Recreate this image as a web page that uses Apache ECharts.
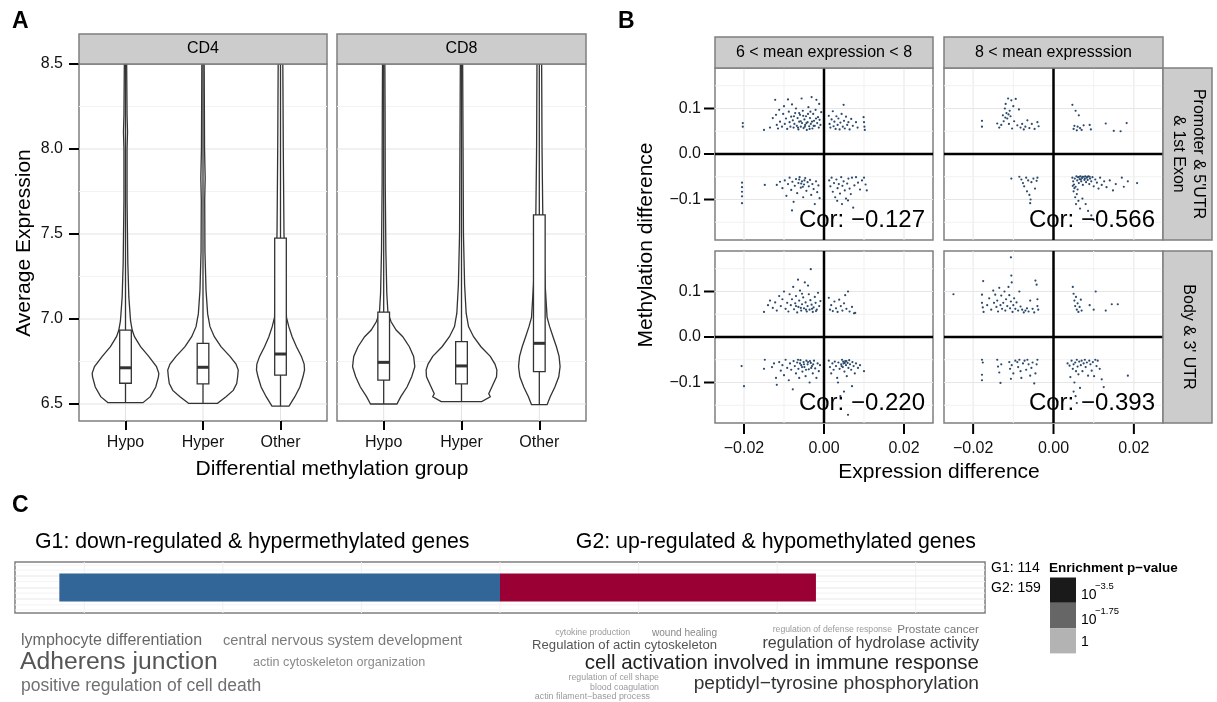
<!DOCTYPE html>
<html>
<head>
<meta charset="utf-8">
<script src="https://cdn.jsdelivr.net/npm/echarts@6/dist/echarts.min.js"></script>
<style>
html,body{margin:0;padding:0;background:#fff}
#main{width:1217px;height:702px}
</style>
</head>
<body>
<div id="main"></div>
<script>
const FONT = '"Liberation Sans", Arial, Helvetica, sans-serif';

/* ---- 面板A：小提琴 + 箱线 ---- */
const groups = ['Hypo', 'Hyper', 'Other'];
const facetsA = ['CD4', 'CD8'];
const yTicksA = [6.5, 7.0, 7.5, 8.0, 8.5];

// 轮廓 [表达值, 半宽(类别单位)]
const cd4Hypo = [[6.508,.225],[6.543,.32],[6.60,.39],[6.66,.425],[6.68,.43],[6.72,.40],[6.78,.30],[6.837,.194],[6.896,.116],[6.935,.086],[6.99,.065],[7.13,.043],[7.33,.03],[7.7,.02],[8.0,.02],[8.1,.026],[8.2,.02],[8.5,.015]];
const cd4Hyper = [[6.504,.187],[6.543,.297],[6.58,.39],[6.62,.435],[6.66,.447],[6.70,.455],[6.735,.426],[6.78,.348],[6.837,.232],[6.896,.146],[6.955,.09],[7.03,.06],[7.17,.039],[7.4,.025],[7.7,.022],[7.83,.028],[8.0,.02],[8.5,.015]];
const cd4Other = [[6.488,.11],[6.543,.185],[6.60,.25],[6.66,.29],[6.70,.31],[6.735,.305],[6.78,.27],[6.837,.206],[6.896,.15],[6.955,.107],[7.01,.077],[7.2,.065],[7.5,.045],[8.0,.036],[8.5,.03]];
const cd8Hypo = [[6.50,.17],[6.543,.22],[6.60,.30],[6.66,.36],[6.72,.40],[6.78,.385],[6.837,.33],[6.896,.245],[6.935,.16],[6.984,.095],[7.034,.055],[7.15,.04],[7.4,.028],[7.8,.02],[8.2,.018],[8.5,.015]];
const cd8Hyper = [[6.514,.26],[6.543,.37],[6.56,.35],[6.60,.39],[6.66,.45],[6.70,.455],[6.735,.43],[6.78,.37],[6.837,.25],[6.896,.155],[6.955,.09],[7.034,.06],[7.2,.04],[7.5,.025],[8.0,.02],[8.5,.015]];
const cd8Other = [[6.496,.10],[6.543,.14],[6.60,.20],[6.66,.25],[6.72,.267],[6.78,.254],[6.837,.22],[6.896,.176],[6.955,.133],[7.01,.10],[7.2,.075],[7.4,.06],[7.6,.045],[8.0,.035],[8.5,.03]];
const cd4Violins = [cd4Hypo, cd4Hyper, cd4Other];
const cd8Violins = [cd8Hypo, cd8Hyper, cd8Other];

// 箱线 [下须, Q1, 中位数, Q3, 上须]
const cd4Box = [[6.508,6.622,6.713,6.935,8.5],[6.504,6.618,6.716,6.857,8.5],[6.488,6.67,6.794,7.476,8.5]];
const cd8Box = [[6.50,6.641,6.745,7.04,8.5],[6.514,6.618,6.724,6.867,8.5],[6.496,6.69,6.857,7.612,8.5]];

/* ---- 面板B：散点 ---- */
const colLabels = ['6 < mean expression < 8', '8 < mean expresssion'];
const rowLabels = ["Promoter & 5'UTR\n& 1st Exon", "Body & 3' UTR"];
const corValues = [-0.127, -0.566, -0.220, -0.393];
const xTicksB = [-0.02, 0, 0.02];
const yTicksB = [-0.1, 0, 0.1];

const promoterMid = [
[-.0128,.079],[-.0122,.119],[-.0120,.086],[-.0118,.064],[-.0115,.056],[-.0112,.097],[-.0110,.071],[-.0105,.060],[-.0102,.088],[-.0100,.105],[-.0098,.066],[-.0095,.078],[-.0092,.055],[-.0090,.120],[-.0088,.093],[-.0086,.070],[-.0084,.060],[-.0082,.082],[-.0080,.109],[-.0078,.074],[-.0076,.058],[-.0074,.066],[-.0072,.090],[-.0070,.100],[-.0068,.062],[-.0066,.079],[-.0064,.054],[-.0062,.071],[-.0060,.086],[-.0058,.060],[-.0056,.122],[-.0055,.068],[-.0053,.095],[-.0051,.057],[-.0049,.076],[-.0047,.064],[-.0045,.083],[-.0043,.053],[-.0041,.070],[-.0039,.103],[-.0037,.061],[-.0035,.079],[-.0033,.066],[-.0031,.125],[-.0029,.056],[-.0027,.088],[-.0025,.073],[-.0023,.062],[-.0021,.097],[-.0019,.119],[-.0017,.068],[-.0015,.081],[-.0013,.058],[-.0011,.075],[-.0009,.064],[-.0007,.092],
[-.0065,.058],[-.0048,.060],[-.0036,.055],[-.0026,.062],[-.0058,.072],[-.0044,.068],[-.0030,.071],[-.0020,.078],[-.0075,.083],[-.0062,.090],[-.0052,.084],[-.0040,.088],[-.0034,.093],[-.0012,.110],
[-.0203,.068],[-.0203,.060],[-.0150,.053],[-.0135,.058],
[.0012,.084],[.0014,.066],[.0016,.058],[.0019,.076],[.0022,.094],[.0024,.061],[.0026,.071],[.0029,.055],[.0031,.083],[.0034,.064],[.0036,.078],[.0039,.054],[.0041,.069],[.0044,.088],[.0047,.060],[.0050,.073],[.0052,.056],[.0055,.082],[.0049,.108],[.0058,.064],[.0061,.070],[.0064,.054],[.0068,.077],[.0072,.062],[.0080,.070],[.0084,.058],[.0099,.081],[.0100,.070],[.0101,.060],[.0102,.053],
[-.0205,-.063],[-.0205,-.073],[-.0205,-.083],[-.0205,-.093],[-.0205,-.108],[-.0148,-.068],[-.0118,-.068],[-.0110,-.061],[-.0104,-.075],[-.0098,-.058],[-.0094,-.092],[-.0090,-.066],[-.0086,-.052],[-.0082,-.079],[-.0079,-.061],[-.0076,-.105],[-.0073,-.070],[-.0070,-.055],[-.0067,-.086],[-.0064,-.064],[-.0061,-.051],[-.0058,-.074],[-.0055,-.060],[-.0052,-.095],[-.0050,-.067],[-.0047,-.053],[-.0044,-.081],[-.0041,-.062],[-.0038,-.071],[-.0035,-.057],[-.0032,-.090],[-.0029,-.066],[-.0026,-.077],[-.0023,-.110],[-.0020,-.060],[-.0017,-.084],[-.0014,-.069],[-.0011,-.097],[-.0080,-.124],[-.0062,-.056],[-.0057,-.065],[-.0049,-.058],[-.0053,-.072],
[.0013,-.058],[.0016,-.071],[.0019,-.052],[.0022,-.083],[.0025,-.064],[.0028,-.095],[.0031,-.056],[.0034,-.075],[.0037,-.066],[.0040,-.087],[.0043,-.051],[.0046,-.070],[.0049,-.060],[.0052,-.080],[.0055,-.098],[.0058,-.065],[.0061,-.054],[.0064,-.076],[.0067,-.088],[.0070,-.052],[.0073,-.118],[.0076,-.069],[.0080,-.051],[.0085,-.063],[.0090,-.078],[.0095,-.058],[.0100,-.052],[.0104,-.067],[.0107,-.080],[.0033,-.103],[.0060,-.102],[.0045,-.110]];

const promoterHigh = [
[-.0178,.073],[-.0178,.060],[-.0140,.067],[-.0135,.058],[-.0130,.064],[-.0126,.085],[-.0124,.072],[-.0121,.100],[-.0119,.110],[-.0117,.090],[-.0115,.078],[-.0113,.122],[-.0111,.066],[-.0109,.095],[-.0107,.083],[-.0105,.118],[-.0103,.056],[-.0100,.105],[-.0098,.072],[-.0094,.121],[-.0090,.063],[-.0086,.098],[-.0082,.058],[-.0078,.066],[-.0074,.054],[-.0070,.060],[-.0065,.074],[-.0060,.057],[-.0054,.066],[-.0047,.055],[-.0040,.070],[-.0037,.061],[-.0120,.080],[-.0112,.087],
[.0047,.108],[.0050,.055],[.0052,.062],[.0055,.095],[.0058,.052],[.0060,.060],[.0063,.085],[.0066,.057],[.0070,.053],[.0075,.063],[.0090,.064],[.0093,.054],[.0130,.067],[.0150,.051],[.0167,.050],[.0182,.068],
[-.0105,-.054],[-.0085,-.050],[-.0080,-.056],[-.0076,-.064],[-.0073,-.071],[-.0068,-.052],[-.0066,-.082],[-.0063,-.058],[-.0060,-.090],[-.0057,-.100],[-.0055,-.062],[-.0050,-.054],[-.0046,-.076],[-.0042,-.059],[-.0040,-.052],[-.0058,-.108],
[.0047,-.052],[.0049,-.060],[.0051,-.067],[.0053,-.054],[.0055,-.072],[.0057,-.049],[.0059,-.058],[.0061,-.051],[.0063,-.064],[.0065,-.055],[.0067,-.049],[.0069,-.060],[.0071,-.053],[.0073,-.068],[.0075,-.050],[.0077,-.057],[.0079,-.049],[.0081,-.062],[.0083,-.052],[.0085,-.057],[.0087,-.049],[.0089,-.066],[.0091,-.054],[.0094,-.060],[.0097,-.051],[.0100,-.071],[.0104,-.056],[.0108,-.063],[.0112,-.076],[.0116,-.052],[.0120,-.068],[.0126,-.060],[.0132,-.073],[.0140,-.058],[.0148,-.080],[.0155,-.066],[.0170,-.052],[.0175,-.072],[.0185,-.060],[.0208,-.064],[.0050,-.082],[.0054,-.095],[.0056,-.110],[.0058,-.088],[.0062,-.103],[.0066,-.120],[.0072,-.098],[.0080,-.110],[.0086,-.125],[.0094,-.135],[.0100,-.145],[.0060,-.078],[.0048,-.070],[.0052,-.075],[.0064,-.050],[.0068,-.056],[.0072,-.050],[.0078,-.054],[.0084,-.050],[.0090,-.050]];

const bodyMid = [
[-.0150,.055],[-.0140,.070],[-.0135,.080],[-.0128,.064],[-.0122,.076],[-.0118,.058],[-.0112,.090],[-.0108,.068],[-.0104,.083],[-.0100,.100],[-.0096,.062],[-.0092,.075],[-.0089,.056],[-.0086,.094],[-.0083,.070],[-.0080,.083],[-.0077,.110],[-.0075,.061],[-.0072,.074],[-.0070,.090],[-.0067,.054],[-.0064,.066],[-.0062,.080],[-.0060,.102],[-.0057,.058],[-.0055,.072],[-.0052,.087],[-.0050,.063],[-.0048,.120],[-.0046,.076],[-.0043,.056],[-.0041,.068],[-.0038,.094],[-.0036,.060],[-.0034,.081],[-.0031,.071],[-.0028,.055],[-.0026,.065],[-.0023,.088],[-.0021,.075],[-.0018,.060],[-.0015,.097],[-.0012,.068],[-.0009,.079],[-.0033,.149],[-.0065,.126],[-.0040,.113],[-.0058,.064],[-.0045,.060],[-.0030,.062],[-.0020,.057],[-.0055,.095],[-.0070,.068],
[.0012,.086],[.0015,.060],[.0018,.070],[.0022,.057],[.0026,.078],[.0030,.063],[.0034,.055],[.0038,.082],[.0042,.068],[.0046,.058],[.0050,.074],[.0053,.092],[.0056,.062],[.0060,.100],[.0064,.056],[.0070,.066],[.0075,.052],[.0078,.053],
[-.0206,-.064],[-.0200,-.108],[-.0148,-.050],[-.0150,-.070],[-.0130,-.066],[-.0125,-.058],[-.0120,-.090],[-.0118,-.105],[-.0112,-.055],[-.0108,-.074],[-.0104,-.062],[-.0100,-.084],[-.0096,-.050],[-.0092,-.068],[-.0088,-.095],[-.0085,-.058],[-.0082,-.072],[-.0078,-.115],[-.0076,-.053],[-.0073,-.064],[-.0070,-.080],[-.0067,-.056],[-.0064,-.070],[-.0062,-.090],[-.0059,-.051],[-.0057,-.062],[-.0054,-.076],[-.0051,-.055],[-.0049,-.066],[-.0046,-.086],[-.0044,-.052],[-.0041,-.060],[-.0038,-.071],[-.0036,-.100],[-.0033,-.057],[-.0030,-.064],[-.0028,-.080],[-.0025,-.052],[-.0022,-.069],[-.0019,-.090],[-.0016,-.058],[-.0013,-.075],[-.0010,-.062],[-.0060,-.058],[-.0050,-.060],[-.0040,-.055],[-.0032,-.068],[-.0045,-.072],[-.0055,-.066],[-.0027,-.060],[-.0035,-.053],[-.0065,-.050],
[.0012,-.052],[.0015,-.066],[.0018,-.080],[.0021,-.058],[.0024,-.072],[.0027,-.054],[.0030,-.064],[.0033,-.090],[.0036,-.056],[.0039,-.070],[.0041,-.130],[.0043,-.060],[.0045,-.050],[.0047,-.066],[.0049,-.058],[.0051,-.076],[.0053,-.053],[.0055,-.062],[.0057,-.086],[.0059,-.057],[.0061,-.068],[.0063,-.051],[.0065,-.060],[.0068,-.072],[.0071,-.055],[.0074,-.064],[.0077,-.080],[.0080,-.058],[.0085,-.068],[.0090,-.062],[.0100,-.075],[.0060,-.171],[.0050,-.120],[.0070,-.108],[.0035,-.100],[.0052,-.057],[.0056,-.053],[.0048,-.054],[.0044,-.064]];

const bodyHigh = [
[-.0249,.094],[-.0106,.175],[-.0175,.123],[-.0178,.093],[-.0178,.075],[-.0176,.065],[-.0174,.055],[-.0165,.070],[-.0160,.085],[-.0155,.060],[-.0150,.102],[-.0148,.075],[-.0145,.093],[-.0142,.066],[-.0140,.080],[-.0138,.056],[-.0135,.108],[-.0132,.070],[-.0130,.091],[-.0128,.062],[-.0125,.075],[-.0122,.100],[-.0120,.058],[-.0118,.083],[-.0115,.068],[-.0112,.110],[-.0110,.092],[-.0108,.063],[-.0106,.078],[-.0105,.135],[-.0104,.120],[-.0102,.055],[-.0100,.070],[-.0098,.085],[-.0095,.062],[-.0092,.076],[-.0088,.058],[-.0085,.100],[-.0082,.067],[-.0078,.060],[-.0074,.054],[-.0070,.058],[-.0066,.063],[-.0062,.056],[-.0058,.080],[-.0052,.062],[-.0048,.054],[-.0045,.124],[-.0042,.115],[-.0040,.083],[-.0038,.060],[-.0040,.068],
[.0048,.110],[.0050,.095],[.0052,.080],[.0054,.068],[.0056,.088],[.0058,.060],[.0060,.074],[.0062,.055],[.0065,.066],[.0068,.082],[.0070,.058],[.0090,.070],[.0100,.060],[.0105,.100],[.0130,.058],[.0145,.072],[.0160,.072],
[-.0178,-.050],[-.0178,-.083],[-.0178,-.095],[-.0176,-.056],[-.0140,-.050],[-.0138,-.065],[-.0135,-.078],[-.0132,-.101],[-.0130,-.060],[-.0110,-.055],[-.0108,-.070],[-.0106,-.092],[-.0104,-.062],[-.0100,-.080],[-.0095,-.052],[-.0090,-.055],[-.0088,-.066],[-.0085,-.050],[-.0082,-.075],[-.0080,-.090],[-.0076,-.058],[-.0072,-.052],[-.0068,-.072],[-.0065,-.050],[-.0062,-.060],[-.0058,-.085],[-.0055,-.068],[-.0052,-.056],[-.0048,-.102],[-.0045,-.080],[-.0042,-.060],[-.0040,-.050],
[.0035,-.058],[.0040,-.063],[.0042,-.088],[.0045,-.052],[.0048,-.070],[.0050,-.060],[.0052,-.100],[.0054,-.056],[.0056,-.075],[.0058,-.050],[.0060,-.065],[.0062,-.082],[.0064,-.054],[.0066,-.112],[.0068,-.062],[.0070,-.052],[.0072,-.075],[.0075,-.058],[.0078,-.050],[.0080,-.066],[.0083,-.056],[.0086,-.085],[.0089,-.052],[.0092,-.060],[.0095,-.074],[.0098,-.055],[.0101,-.086],[.0104,-.050],[.0107,-.064],[.0110,-.052],[.0115,-.070],[.0120,-.093],[.0125,-.110],[.0185,-.085],[.0055,-.130],[.0058,-.145],[.0050,-.120]];

const scatterSets = [promoterMid, promoterHigh, bodyMid, bodyHigh];

/* ---- 面板C：富集条 + 词云 ---- */
const setTitles = ['G1: down-regulated & hypermethylated genes', 'G2: up-regulated & hypomethylated genes'];
const geneSets = ['G1', 'G2'];
const geneCounts = [114, 159];
const barScore = [-3.18, 2.28];
const g1Terms = ['lymphocyte differentiation', 'central nervous system development', 'Adherens junction', 'actin cytoskeleton organization', 'positive regulation of cell death'];
const g1Size = [16, 14.7, 24.7, 12.6, 17.5];
const g1Shade = ['#666', '#7a7a7a', '#555', '#8a8a8a', '#707070'];
const g2Terms = ['cytokine production', 'wound healing', 'Regulation of actin cytoskeleton', 'regulation of defense response', 'Prostate cancer', 'regulation of hydrolase activity', 'cell activation involved in immune response', 'regulation of cell shape', 'blood coagulation', 'actin filament\u2212based process', 'peptidyl\u2212tyrosine phosphorylation'];
const g2Size = [8.7, 10.1, 13.1, 8.7, 11.7, 16.1, 20.5, 8.8, 8.8, 8.9, 19.2];
const g2Shade = ['#9a9a9a', '#888', '#555', '#9a9a9a', '#777', '#444', '#222', '#9a9a9a', '#9a9a9a', '#9a9a9a', '#333'];
const legendBase = ['10', '10', '1'];
const legendExp = ['\u22123.5', '\u22121.75', ''];
const legendColors = ['#1a1a1a', '#666666', '#b3b3b3'];

/* ---- 布局 ---- */
const gridRects = [
  [79, 64, 248, 357], [337, 64, 249, 357],
  [715, 68, 218, 172], [944, 68, 219, 172], [715, 251, 218, 172], [944, 251, 219, 172],
  [15, 562, 970, 51]
];
// 词云位置 [x, y, 对齐]
const g1Pos = [[21, 641, 'left'], [223, 641, 'left'], [20, 662, 'left'], [253, 663, 'left'], [21, 686, 'left']];
const g2Pos = [[630, 633, 'right'], [717, 633, 'right'], [717, 645, 'right'], [892, 630, 'right'], [979, 630, 'right'], [979, 644, 'right'], [979, 663, 'right'], [659, 678, 'right'], [659, 688, 'right'], [650, 697, 'right'], [979, 684, 'right']];

const minus = s => s.replace('-', '\u2212');

function txt(x, y, text, size, opt) {
  opt = opt || {};
  const ha = opt.align || 'left';
  const va = opt.valign || 'middle';
  return {
    type: 'text', x, y, z: 100, rotation: opt.rotation || 0,
    style: {
      text, fontSize: size, fontFamily: FONT, fontWeight: opt.weight || 'normal',
      fill: opt.color || '#000', align: ha, verticalAlign: va,
      textAlign: ha, textVerticalAlign: va, lineHeight: opt.lineHeight
    }
  };
}

function strip(x, y, w, h) {
  return {type: 'rect', z: 90, shape: {x, y, width: w, height: h},
    style: {fill: '#cccccc', stroke: '#7f7f7f', lineWidth: 1.5}};
}

// 网格线（自绘，避免刻度从min开始算）
function gridLines(gi, vx, hy, color, xRef, yRef, lw) {
  return {
    type: 'custom', xAxisIndex: gi, yAxisIndex: gi, silent: true, z: 1,
    data: [[xRef, yRef]],
    renderItem: (params, api) => {
      const cs = params.coordSys;
      const ch = [];
      vx.forEach(v => {
        const x = api.coord([v, yRef])[0];
        ch.push({type: 'line', shape: {x1: x, y1: cs.y, x2: x, y2: cs.y + cs.height}, style: {stroke: color, lineWidth: lw || 1}});
      });
      hy.forEach(v => {
        const y = api.coord([xRef, v])[1];
        ch.push({type: 'line', shape: {x1: cs.x, y1: y, x2: cs.x + cs.width, y2: y}, style: {stroke: color, lineWidth: lw || 1}});
      });
      return {type: 'group', children: ch};
    }
  };
}

// 面板B的外侧刻度线和刻度标签
function outerAxis(gi, vx, hy) {
  return {
    type: 'custom', xAxisIndex: gi, yAxisIndex: gi, silent: true, z: 5, clip: false,
    data: [[0, 0]],
    renderItem: (params, api) => {
      const cs = params.coordSys;
      const ch = [];
      const st = {stroke: '#000', lineWidth: 2};
      const ts = {fill: '#111', fontSize: 16, fontFamily: FONT};
      vx.forEach(v => {
        const x = api.coord([v, 0])[0];
        const yb = cs.y + cs.height;
        ch.push({type: 'line', shape: {x1: x, y1: yb + 1, x2: x, y2: yb + 11}, style: st});
        ch.push({type: 'text', x: x, y: yb + 26, style: Object.assign({text: minus(v.toFixed(2)), align: 'center', verticalAlign: 'middle'}, ts)});
      });
      hy.forEach(v => {
        const y = api.coord([0, v])[1];
        ch.push({type: 'line', shape: {x1: cs.x - 1, y1: y, x2: cs.x - 11, y2: y}, style: st});
        ch.push({type: 'text', x: cs.x - 14, y: y, style: Object.assign({text: minus(v.toFixed(1)), align: 'right', verticalAlign: 'middle'}, ts)});
      });
      return {type: 'group', children: ch};
    }
  };
}

function violinSeries(gi, profiles, boxes) {
  return {
    type: 'custom', xAxisIndex: gi, yAxisIndex: gi, z: 3, silent: true,
    data: boxes.map((b, i) => [i + 1, b[2]]),
    renderItem: (params, api) => {
      const i = params.dataIndex, c = i + 1, prof = profiles[i], b = boxes[i];
      const left = prof.map(p => api.coord([c - p[1], p[0]]));
      const right = prof.slice().reverse().map(p => api.coord([c + p[1], p[0]]));
      const bw = 0.075;
      const tl = api.coord([c - bw, b[3]]), br = api.coord([c + bw, b[1]]);
      const ml = api.coord([c - bw, b[2]]), mr = api.coord([c + bw, b[2]]);
      const lo = api.coord([c, b[0]]), hi = api.coord([c, b[4]]);
      const st = {stroke: '#333', lineWidth: 1.3};
      return {type: 'group', children: [
        {type: 'polygon', shape: {points: left.concat(right)}, style: {fill: '#fff', stroke: '#333', lineWidth: 1.3}},
        {type: 'line', shape: {x1: lo[0], y1: lo[1], x2: lo[0], y2: br[1]}, style: st},
        {type: 'line', shape: {x1: hi[0], y1: hi[1], x2: hi[0], y2: tl[1]}, style: st},
        {type: 'rect', shape: {x: tl[0], y: tl[1], width: br[0] - tl[0], height: br[1] - tl[1]}, style: {fill: '#fff', stroke: '#333', lineWidth: 1.3}},
        {type: 'line', shape: {x1: ml[0], y1: ml[1], x2: mr[0], y2: mr[1]}, style: {stroke: '#333', lineWidth: 3}}
      ]};
    }
  };
}

const tickStyle = {lineStyle: {color: '#000', width: 2}};
const noLine = () => ({show: false, onZero: false});
const grids = gridRects.map(r => ({
  left: r[0], top: r[1], width: r[2], height: r[3], show: true,
  borderColor: '#7f7f7f', borderWidth: 1.5, backgroundColor: 'transparent',
  containLabel: false, outerBoundsMode: 'none'
}));

const xAxes = [], yAxes = [];
// A
facetsA.forEach((f, gi) => {
  xAxes.push({gridIndex: gi, type: 'value', min: 0.4, max: 3.6, splitLine: {show: false}, axisLine: noLine(),
    axisTick: Object.assign({customValues: [1, 2, 3], length: 9}, tickStyle),
    axisLabel: {customValues: [1, 2, 3], formatter: v => groups[Math.round(v) - 1], fontSize: 16, color: '#111', fontFamily: FONT, margin: 14}});
  yAxes.push({gridIndex: gi, type: 'value', min: 6.4, max: 8.5, splitLine: {show: false}, axisLine: noLine(),
    axisTick: Object.assign({show: gi === 0, customValues: yTicksA, length: 10}, tickStyle),
    axisLabel: {show: gi === 0, customValues: yTicksA, formatter: v => v.toFixed(1), fontSize: 16, color: '#111', fontFamily: FONT, margin: 16}});
});
// B（坐标轴只提供比例尺，刻度由 outerAxis 画）
[2, 3, 4, 5].forEach(gi => {
  xAxes.push({gridIndex: gi, type: 'value', show: false, min: -0.02725, max: 0.02725, splitLine: {show: false}, axisLine: noLine()});
  yAxes.push({gridIndex: gi, type: 'value', show: false, min: -0.189, max: 0.189, splitLine: {show: false}, axisLine: noLine()});
});
// C
xAxes.push({gridIndex: 6, type: 'value', min: -3.5, max: 3.5, show: false, splitLine: {show: false}, axisLine: noLine()});
yAxes.push({gridIndex: 6, type: 'category', data: ['set'], show: false, splitLine: {show: false}, axisLine: noLine()});

const series = [];
// A
[cd4Violins, cd8Violins].forEach((prof, gi) => {
  series.push(gridLines(gi, [1, 2, 3], [6.5, 7.0, 7.5, 8.0], '#e3e3e3', 2, 7));
  series.push(gridLines(gi, [], [6.75, 7.25, 7.75, 8.25], '#f3f3f3', 2, 7));
  series.push(violinSeries(gi, prof, gi === 0 ? cd4Box : cd8Box));
});
// B
scatterSets.forEach((pts, k) => {
  const gi = k + 2;
  series.push(gridLines(gi, [-0.02, 0.02], [-0.1, 0.1], '#e6e6e6', 0, 0));
  series.push(gridLines(gi, [-0.01, 0.01], [-0.15, -0.05, 0.05, 0.15], '#f1f1f1', 0, 0));
  series.push({type: 'scatter', xAxisIndex: gi, yAxisIndex: gi, data: pts, symbol: 'circle', symbolSize: 2.2,
    itemStyle: {color: '#2b4a6c', opacity: 1}, silent: true, z: 3});
  const zl = gridLines(gi, [0], [0], '#000', 0, 0, 2.5);
  zl.z = 5;
  series.push(zl);
  series.push(outerAxis(gi, gi >= 4 ? xTicksB : [], gi % 2 === 0 ? yTicksB : []));
});
// C
series.push(gridLines(6, [-3, -2, -1, 0, 1, 2, 3], [], '#f0f0f0', 0, 0));
series.push({
  type: 'custom', xAxisIndex: 6, yAxisIndex: 6, silent: true, z: 1, data: [[0, 0]],
  renderItem: (params) => {
    const cs = params.coordSys;
    const rows = [[0.06, '#f4f4f4'], [0.16, '#f4f4f4'], [0.275, '#e8e8e8'], [0.385, '#f4f4f4'], [0.51, '#e8e8e8'],
                  [0.61, '#f4f4f4'], [0.725, '#e8e8e8'], [0.84, '#f4f4f4'], [0.94, '#f4f4f4']];
    return {type: 'group', children: rows.map(r => ({
      type: 'line', shape: {x1: cs.x, y1: cs.y + r[0] * cs.height, x2: cs.x + cs.width, y2: cs.y + r[0] * cs.height},
      style: {stroke: r[1], lineWidth: 1}}))};
  }
});
series.push({type: 'bar', xAxisIndex: 6, yAxisIndex: 6, data: [barScore[0]], barWidth: 28, itemStyle: {color: '#326598'}, silent: true, z: 3});
series.push({type: 'bar', xAxisIndex: 6, yAxisIndex: 6, data: [barScore[1]], barWidth: 28, barGap: '-100%', itemStyle: {color: '#9a0033'}, silent: true, z: 3});

/* ---- 文字与图例 ---- */
const g = [];
g.push(txt(12, 22, 'A', 23, {weight: 'bold'}));
g.push(txt(618, 22, 'B', 23, {weight: 'bold'}));
g.push(txt(12, 506, 'C', 23, {weight: 'bold'}));
// A
facetsA.forEach((f, i) => {
  const r = gridRects[i];
  g.push(strip(r[0], 34, r[2], 30));
  g.push(txt(r[0] + r[2] / 2, 49, f, 16, {align: 'center'}));
});
g.push(txt(24, 243, 'Average Expression', 21, {align: 'center', rotation: Math.PI / 2}));
g.push(txt(332, 469, 'Differential methylation group', 21, {align: 'center'}));
// B
colLabels.forEach((c, i) => {
  const r = gridRects[2 + i];
  g.push(strip(r[0], 37, r[2], 31));
  g.push(txt(r[0] + r[2] / 2, 52.5, c, 16, {align: 'center'}));
});
rowLabels.forEach((c, i) => {
  const r = gridRects[2 + i * 2];
  g.push(strip(1163, r[1], 49, r[3]));
  g.push(txt(1188, r[1] + r[3] / 2, c, 16, {align: 'center', rotation: -Math.PI / 2, lineHeight: 20}));
});
corValues.forEach((v, k) => {
  const r = gridRects[2 + k];
  g.push(txt(r[0] + r[2] - 8, r[1] + r[3] - 20, 'Cor: ' + minus(v.toFixed(3)), 24, {align: 'right'}));
});
g.push(txt(646, 245, 'Methylation difference', 21, {align: 'center', rotation: Math.PI / 2}));
g.push(txt(939, 472, 'Expression difference', 21, {align: 'center'}));
// C
g.push(txt(35, 542, setTitles[0], 21.3));
g.push(txt(976, 542, setTitles[1], 21.3, {align: 'right'}));
geneSets.forEach((s, i) => g.push(txt(991, 568 + i * 20.5, s + ': ' + geneCounts[i], 14)));
g.push(txt(1049, 568, 'Enrichment p\u2212value', 13.5, {weight: 'bold'}));
legendColors.forEach((c, i) => {
  g.push({type: 'rect', z: 90, shape: {x: 1050, y: 577.5 + i * 25.3, width: 26, height: 25.3}, style: {fill: c}});
  const ly = [595, 620, 642][i];
  g.push(txt(1081, ly, legendBase[i], 14));
  if (legendExp[i]) g.push(txt(1095, ly - 9, legendExp[i], 9.5));
});
g1Terms.forEach((t, i) => g.push(txt(g1Pos[i][0], g1Pos[i][1], t, g1Size[i], {align: g1Pos[i][2], color: g1Shade[i]})));
g2Terms.forEach((t, i) => g.push(txt(g2Pos[i][0], g2Pos[i][1], t, g2Size[i], {align: g2Pos[i][2], color: g2Shade[i]})));

const chart = echarts.init(document.getElementById('main'), null, {renderer: 'canvas'});
chart.setOption({
  animation: false,
  backgroundColor: '#fff',
  textStyle: {fontFamily: FONT},
  grid: grids,
  xAxis: xAxes,
  yAxis: yAxes,
  series: series,
  graphic: {elements: g}
});
</script>
</body>
</html>
